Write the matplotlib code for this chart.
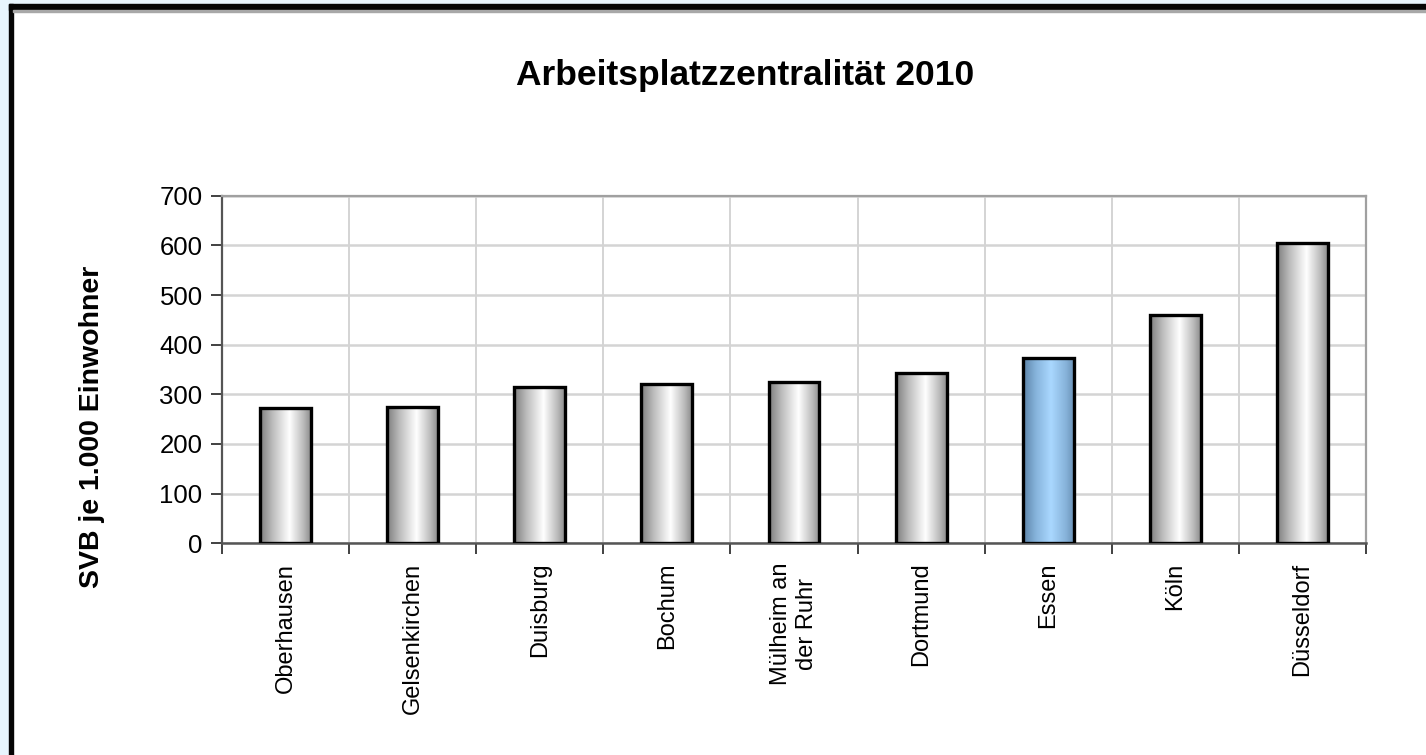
import matplotlib
matplotlib.use("Agg")
import matplotlib.pyplot as plt
import numpy as np
from matplotlib.colors import LinearSegmentedColormap
from matplotlib.patches import Rectangle

plt.rcParams['font.family'] = ['Liberation Sans', 'DejaVu Sans']

# data
cities = ['Oberhausen', 'Gelsenkirchen', 'Duisburg', 'Bochum', 'Mülheim an\nder Ruhr',
          'Dortmund', 'Essen', 'Köln', 'Düsseldorf']
values = [272, 275, 314, 320, 325, 343, 374, 460, 605]
highlight = 'Essen'
yticks = [0, 100, 200, 300, 400, 500, 600, 700]

grey_cmap = LinearSegmentedColormap.from_list(
    'grey_bar', [(0.0, '#7e7e7e'), (0.25, '#bdbdbd'), (0.58, '#ffffff'), (0.85, '#bcbcbc'), (1.0, '#8c8c8c')])
blue_cmap = LinearSegmentedColormap.from_list(
    'blue_bar', [(0.0, '#5b83a8'), (0.25, '#86b3db'), (0.55, '#aad8ff'), (0.85, '#86b2d9'), (1.0, '#6a91b6')])

fig = plt.figure(figsize=(14.26, 7.55), dpi=100)
fig.patch.set_facecolor('white')

# frame of the screenshot: light blue strip, black border on top and left
W, H = 1426, 755
def px_rect(x0, y0, w, h, color):
    fig.patches.append(Rectangle((x0 / W, 1 - (y0 + h) / H), w / W, h / H,
                                 transform=fig.transFigure, color=color, zorder=0))
px_rect(0, 0, 9, H, '#e8f5fd')
px_rect(0, 0, W, 4, '#e8f5fd')
px_rect(9, 4, W - 9, 6, '#050505')
px_rect(9, 4, 4, H - 4, '#050505')
px_rect(13, 10, W - 13, 2, '#a8a8a8')

ax = fig.add_axes([222 / W, 211.7 / H, (1366 - 222) / W, 0.4604])

x = np.arange(len(cities))
width = 0.4
grad = np.linspace(0, 1, 256).reshape(1, -1)
for xi, v, name in zip(x, values, cities):
    cmap = blue_cmap if name == highlight else grey_cmap
    ax.imshow(grad, extent=[xi - width / 2, xi + width / 2, 0, v], aspect='auto',
              cmap=cmap, zorder=2, interpolation='bilinear')
ax.bar(x, values, width=width, fill=False, edgecolor='black', linewidth=2.4, zorder=3)

ax.set_xlim(-0.5, len(cities) - 0.5)
ax.set_ylim(0, 700)
ax.set_yticks(yticks)
ax.set_xticks(x)
ax.set_xticklabels(cities, rotation=90, fontsize=17, va='top', ha='center', multialignment='center')
ax.set_xticks(np.arange(len(cities) + 1) - 0.5, minor=True)
ax.tick_params(axis='x', which='major', length=0, pad=14)
ax.tick_params(axis='x', which='minor', length=8, width=1.3, color='#333333', direction='out')
ax.tick_params(axis='y', length=8, width=1.3, color='#333333', labelsize=18.5, pad=6)

ax.grid(True, axis='y', color='#d4d4d4', linewidth=1.8, zorder=0)
ax.grid(True, axis='x', which='minor', color='#d4d4d4', linewidth=1.4, zorder=0)
ax.set_axisbelow(True)

for side in ['top', 'right']:
    ax.spines[side].set_color('#a0a0a0')
    ax.spines[side].set_linewidth(1.6)
ax.spines['left'].set_color('#555555')
ax.spines['left'].set_linewidth(1.6)
ax.spines['bottom'].set_color('#555555')
ax.spines['bottom'].set_linewidth(1.8)

fig.text(92 / W, 1 - 427 / H, 'SVB je 1.000 Einwohner', rotation=90, fontsize=20.5,
         fontweight='bold', ha='center', va='center')
fig.text(745 / W, 1 - 75 / H, 'Arbeitsplatzzentralität 2010', fontsize=25.5,
         fontweight='bold', ha='center', va='center')

fig.savefig('out.png', dpi=100)
